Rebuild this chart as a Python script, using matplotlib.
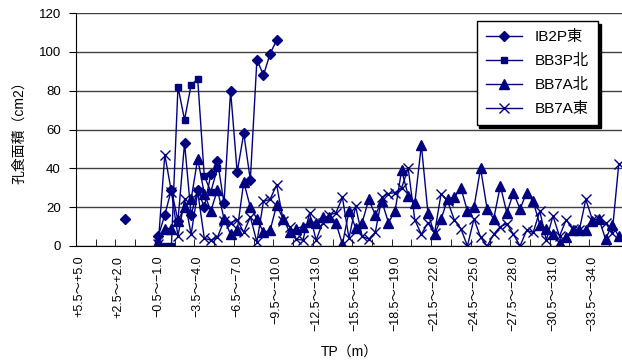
import numpy as np
import matplotlib
matplotlib.use("Agg")
import matplotlib.pyplot as plt

plt.rcParams['font.family'] = ['Liberation Sans', 'Noto Sans CJK JP', 'DejaVu Sans']

nan = np.nan
n_cat = 83  # 0.5m刻み, +5.5～+5.0 から

# 系列データ (cm2), 欠測は nan
ib2p_e = [nan]*7 + [14] + [nan]*4 + [5, 16, 29, 13, 53, 16, 29, 20, 37, 44, 22, 80, 38, 58, 34, 96, 88, 99, 106]
bb3p_n = [nan]*12 + [1, 0, 0, 82, 65, 83, 86, 36, 28, 40]
bb7a_n = [nan]*12 + [2, 9, 9, 13, 20, 24, 45, 27, 18, 29,
                     14, 6, 8, 33, 20, 14, 7, 8, 21, 14,
                     7, 9, 10, 12.5, 12, 15, 15, 12, 1, 18,
                     9.5, 12, 24, 16, 23, 12, 18, 39, 26, 22,
                     52, 17, 6, 14, 24, 25, 30, 18, 20, 40,
                     19, 14, 31, 17, 27.5, 19, 27.5, 23, 11, 9,
                     6, 1.5, 4.5, 8, 8, 8, 13, 14, 3.5, 11, 5]
bb7a_e = [nan]*12 + [1, 47, 28, 5, 24, 6, 28, 4, 3, 4.5,
                     13, 12, 13.5, 7, 15, 2, 23, 24, 31.5, 13,
                     10, 3.5, 3, 17, 3, 12, 16, 17, 25, 4,
                     20.5, 5, 3.5, 7, 25, 27, 27.5, 30, 40, 13.5,
                     6, 12, 6.5, 27, 23, 13.5, 9, 0, 14, 4.5,
                     0, 6, 10, 11.5, 6, 0, 8, 7, 18, 3,
                     15.5, 5, 13.5, 9, 8, 24, 13.5, 14, 12, 6.5, 42]

tick_labels = ['+5.5～+5.0', '+2.5～+2.0', '−0.5～−1.0', '−3.5～−4.0', '−6.5～−7.0',
               '−9.5～−10.0', '−12.5～−13.0', '−15.5～−16.0', '−18.5～−19.0',
               '−21.5～−22.0', '−24.5～−25.0', '−27.5～−28.0', '−30.5～−31.0',
               '−33.5～−34.0']

col = '#000080'
x = np.arange(n_cat)

def pad(v):
    v = list(v) + [nan] * (n_cat - len(v))
    return np.array(v, dtype=float)

fig = plt.figure(figsize=(6.22, 3.61), dpi=100)
ax = fig.add_axes([76/622, 1 - 246/361, 546/622, 233/361])

ax.plot(x, pad(ib2p_e), color=col, lw=1, marker='D', ms=5.5, label='IB2P東')
ax.plot(x, pad(bb3p_n), color=col, lw=1, marker='s', ms=5, label='BB3P北')
ax.plot(x, pad(bb7a_n), color=col, lw=1, marker='^', ms=6.5, label='BB7A北')
ax.plot(x, pad(bb7a_e), color=col, lw=1, marker='x', ms=6.5, mew=1, label='BB7A東')

ax.set_xlim(-0.5, 82.5)
ax.set_ylim(0, 120)
ax.set_yticks(np.arange(0, 121, 20))
ax.yaxis.grid(True, color='#404040', lw=1)
ax.set_axisbelow(True)

ax.set_xticks(np.arange(0, 6*len(tick_labels), 6))
ax.set_xticklabels(tick_labels, rotation=90, fontsize=9)
ax.set_xticks(np.arange(-0.5, 83, 3), minor=True)
ax.tick_params(axis='x', which='major', length=0, pad=7)
ax.tick_params(axis='x', which='minor', direction='in', length=5, color='k')
ax.tick_params(axis='y', direction='out', length=5, labelsize=9.5, pad=6)

for s in ['top', 'right']:
    ax.spines[s].set_visible(False)
ax.spines['left'].set_color('k')
ax.spines['bottom'].set_color('k')

ax.set_ylabel('孔食面積（cm2）', fontsize=10, labelpad=9)
ax.set_xlabel('TP（m）', fontsize=10, labelpad=10)

leg = ax.legend(loc='upper right', bbox_to_anchor=(0.956, 0.966), borderaxespad=0,
                fontsize=11, fancybox=False, edgecolor='k', framealpha=1,
                shadow={'color': 'k', 'alpha': 1}, handlelength=2.4,
                handletextpad=0.8, labelspacing=0.65, borderpad=0.6)
leg.get_frame().set_linewidth(1)

fig.savefig('out.png', dpi=100)
